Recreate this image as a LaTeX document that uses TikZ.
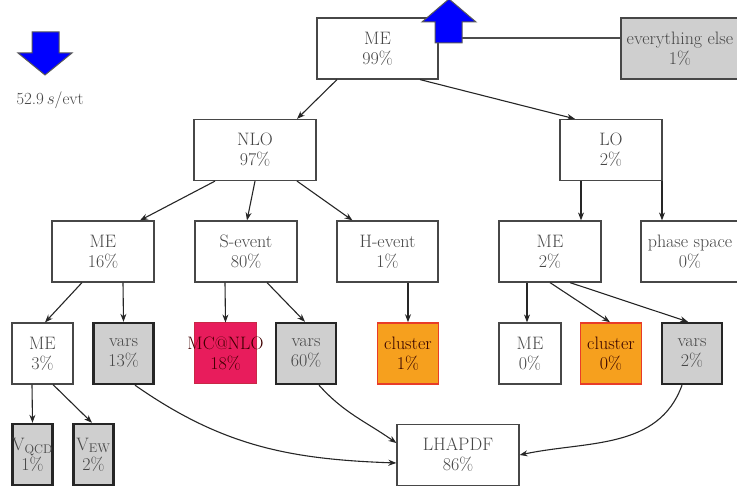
\documentclass[tikz,border=0pt]{standalone}
\usetikzlibrary{arrows.meta}
\definecolor{mcred}{RGB}{232,28,92}
\definecolor{mcborder}{RGB}{200,40,70}
\definecolor{clorange}{RGB}{246,160,30}
\definecolor{clborder}{RGB}{232,60,40}
\definecolor{txt}{RGB}{70,70,70}
\newcommand{\ovl}[1]{\makebox[0pt]{#1}}
\begin{document}
\begin{tikzpicture}[x=1pt,y=-1pt,
  box/.style={draw=black!72, line width=1.2pt, fill=white, text=txt, align=center,
    inner sep=0pt, minimum height=61pt, font=\fontsize{18}{20}\selectfont},
  wbox/.style={box, minimum width=#1},
  gbox/.style={box, fill=black!19, line width=2.4pt, draw=black!85, minimum width=#1},
  obox/.style={box, fill=clorange, draw=clborder, line width=1.6pt, minimum width=#1, text=black!80!red},
  rbox/.style={box, fill=mcred, draw=mcborder, line width=1pt, minimum width=#1, text=black!75!red},
  edge/.style={draw=black!85, line width=1.1pt, -{Stealth[length=8pt,width=6pt]}},
  bigarrow/.style={fill=blue, draw=black!65, line width=1pt, line join=miter}
]
\useasboundingbox (0,0) rectangle (737,486);

% top row
\node[wbox=121] (metop) at (377.5,48.5) {ME\\99\%};
\node[box, fill=black!19, minimum width=118] (else) at (680,48.5) {\ovl{everything else}\\1\%};

% blue arrows
\draw[bigarrow] (32,32) -- (59,32) -- (59,53) -- (72,53) -- (45,75) -- (18,53) -- (32,53) -- cycle;
\node[text=txt, font=\fontsize{17}{20}\selectfont] (rate) at (50,100) {52.9\,$s$/evt};
\coordinate (uparr) at (462,38);
\draw[black!70, line width=1.2pt] (uparr) -- (else.west |- uparr);
\draw[bigarrow] (435,43) -- (462,43) -- (462,22) -- (476,22) -- (449,-1) -- (422,22) -- (435,22) -- cycle;

% row 2
\node[wbox=122] (nlo) at (255,150) {NLO\\97\%};
\node[wbox=102] (lo) at (611,150) {LO\\2\%};

% row 3
\node[wbox=102] (me16) at (103,251.5) {ME\\16\%};
\node[wbox=102] (sev) at (246,251.5) {S-event\\80\%};
\node[wbox=101] (hev) at (387.5,251.5) {H-event\\1\%};
\node[wbox=102] (me2) at (550,251.5) {ME\\2\%};
\node[wbox=98] (ps) at (690,251.5) {\ovl{phase space}\\0\%};

% row 4
\node[wbox=61] (me3) at (42.5,353.5) {ME\\3\%};
\node[gbox=60] (vars13) at (123.5,353.5) {vars\\13\%};
\node[rbox=62] (mcnlo) at (225.5,353.5) {\ovl{MC@NLO}\\18\%};
\node[gbox=60] (vars60) at (306,353.5) {vars\\60\%};
\node[obox=61] (cl1) at (408,353.5) {\ovl{cluster}\\1\%};
\node[wbox=62] (me0) at (530,353.5) {ME\\0\%};
\node[obox=61] (cl0) at (611,353.5) {\ovl{cluster}\\0\%};
\node[gbox=60] (vars2) at (692,353.5) {vars\\2\%};

% row 5
\node[gbox=40] (vqcd) at (32.5,454.5) {\ovl{V\textsubscript{QCD}}\\1\%};
\node[gbox=40] (vew) at (93.5,454.5) {\ovl{V\textsubscript{EW}}\\2\%};
\node[wbox=122] (lhapdf) at (458,455) {LHAPDF\\86\%};

% edges
\draw[edge] ([xshift=-40.5pt]metop.south) -- ([xshift=42pt]nlo.north);
\draw[edge] ([xshift=42.5pt]metop.south) -- ([xshift=-36pt]lo.north);
\draw[edge] ([xshift=-40pt]nlo.south) -- ([xshift=37pt]me16.north);
\draw[edge] (nlo.south) -- ([xshift=1pt]sev.north);
\draw[edge] ([xshift=42pt]nlo.south) -- ([xshift=-35pt]hev.north);
\draw[edge] ([xshift=-30pt]lo.south) -- ([xshift=31pt]me2.north);
\draw[edge] ([xshift=51pt]lo.south) -- ([xshift=-28pt]ps.north);
\draw[edge] ([xshift=-21pt]me16.south) -- ([xshift=2.5pt]me3.north);
\draw[edge] ([xshift=20pt]me16.south) -- (vars13.north);
\draw[edge] ([xshift=-21pt]sev.south) -- (mcnlo.north);
\draw[edge] ([xshift=21pt]sev.south) -- ([xshift=-1pt]vars60.north);
\draw[edge] ([xshift=20.5pt]hev.south) -- (cl1.north);
\draw[edge] ([xshift=-23pt]me2.south) -- ([xshift=-3pt]me0.north);
\draw[edge] (me2.south) -- ([xshift=-1pt]cl0.north);
\draw[edge] ([xshift=20pt]me2.south) -- ([xshift=-4pt]vars2.north);
\draw[edge] ([xshift=-10.5pt]me3.south) -- (vqcd.north);
\draw[edge] ([xshift=10.5pt]me3.south) -- ([xshift=-1.5pt]vew.north);
\draw[edge] ([xshift=11.5pt]vars13.south) to[out=-35,in=178] ([yshift=-8pt]lhapdf.west);
\draw[edge] ([xshift=13pt]vars60.south) to[out=-48,in=145] ([yshift=12pt]lhapdf.west);
\draw[edge] ([xshift=-10pt]vars2.south) to[out=-110,in=12] (lhapdf.east);
\end{tikzpicture}
\end{document}
